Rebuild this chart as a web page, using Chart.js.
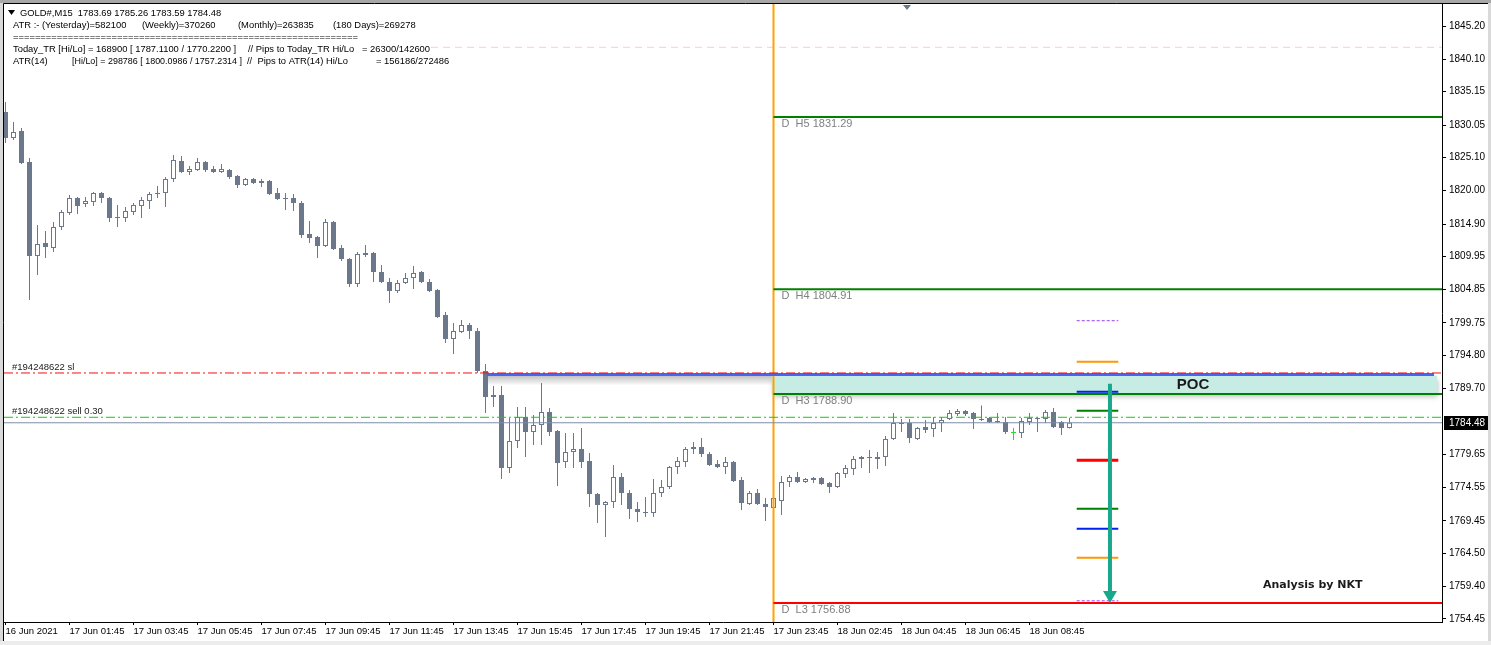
<!DOCTYPE html>
<html>
<head>
<meta charset="utf-8">
<title>GOLD#,M15</title>
<script src="https://cdn.jsdelivr.net/npm/chart.js@4.4.1/dist/chart.umd.min.js"></script>
<style>
  html, body { margin: 0; padding: 0; background: #fff; }
  canvas { display: block; }
</style>
</head>
<body>
<canvas id="goldChart" width="1491" height="645"></canvas>
<script>
"use strict";

// GOLD#, M15 candles
const opens = [
  1832.04, 1828.06, 1829.13, 1824.39, 1810.00, 1811.99, 1811.23, 1814.44, 1816.58, 1818.88,
  1817.96, 1818.27, 1819.64, 1818.88, 1815.97, 1815.82, 1816.74, 1817.65, 1818.42, 1819.49,
  1819.64, 1821.79, 1824.54, 1822.86, 1823.16, 1824.39, 1823.32, 1822.86, 1823.16, 1822.25,
  1820.87, 1821.79, 1821.48, 1821.48, 1819.64, 1818.88, 1818.88, 1818.11, 1813.37, 1812.91,
  1811.53, 1815.21, 1811.23, 1809.54, 1805.72, 1810.46, 1810.46, 1807.55, 1806.02, 1804.64,
  1805.87, 1806.63, 1807.55, 1806.02, 1804.80, 1800.97, 1797.30, 1798.37, 1799.44, 1798.52,
  1792.40, 1788.42, 1788.73, 1777.56, 1781.69, 1785.36, 1783.07, 1784.14, 1786.13, 1783.22,
  1778.47, 1780.01, 1780.47, 1778.63, 1773.58, 1771.89, 1772.35, 1776.18, 1773.73, 1771.28,
  1770.82, 1770.67, 1773.73, 1774.65, 1777.71, 1778.47, 1780.47, 1780.77, 1779.70, 1778.17,
  1777.71, 1778.47, 1775.72, 1772.05, 1773.73, 1772.05, 1771.44, 1772.51, 1775.41, 1776.18,
  1775.41, 1775.72, 1776.03, 1775.26, 1774.65, 1776.64, 1777.40, 1778.93, 1779.09, 1778.93,
  1779.24, 1781.99, 1784.29, 1784.44, 1781.99, 1783.83, 1783.53, 1784.44, 1785.06, 1785.82,
  1786.28, 1785.97, 1785.06, 1785.21, 1784.75, 1784.60, 1782.91, 1782.91, 1784.60, 1785.21,
  1785.06, 1786.13, 1784.60, 1783.69
];
const highs = [
  1833.57, 1830.51, 1829.59, 1825.00, 1814.75, 1813.83, 1815.21, 1817.04, 1819.34, 1819.03,
  1819.03, 1819.80, 1819.80, 1819.03, 1817.81, 1817.50, 1818.11, 1819.03, 1819.80, 1820.71,
  1822.09, 1825.46, 1825.31, 1823.78, 1825.00, 1824.54, 1823.78, 1824.08, 1823.32, 1822.40,
  1821.94, 1821.94, 1821.79, 1821.63, 1820.41, 1819.64, 1819.49, 1818.42, 1815.36, 1813.06,
  1815.66, 1815.36, 1811.69, 1809.70, 1810.61, 1811.69, 1810.61, 1808.62, 1806.63, 1806.33,
  1807.40, 1808.47, 1807.71, 1806.48, 1804.95, 1801.43, 1799.75, 1800.21, 1799.75, 1798.98,
  1793.47, 1790.10, 1790.10, 1785.21, 1786.89, 1786.89, 1785.67, 1790.57, 1786.74, 1783.37,
  1782.91, 1782.91, 1783.68, 1779.85, 1773.73, 1772.51, 1778.02, 1776.79, 1774.19, 1772.35,
  1773.12, 1775.87, 1775.72, 1777.86, 1779.24, 1780.77, 1781.54, 1782.15, 1780.01, 1778.78,
  1779.24, 1778.63, 1776.18, 1774.04, 1774.34, 1772.97, 1773.12, 1776.33, 1776.49, 1776.95,
  1776.03, 1776.18, 1776.18, 1775.41, 1776.95, 1778.02, 1779.39, 1779.39, 1780.31, 1780.01,
  1782.45, 1785.97, 1785.06, 1785.06, 1783.83, 1784.90, 1785.36, 1785.36, 1786.43, 1786.59,
  1786.43, 1786.13, 1787.11, 1785.36, 1785.97, 1785.36, 1783.68, 1785.21, 1785.97, 1785.36,
  1786.43, 1786.74, 1784.75, 1785.26
];
const lows = [
  1827.30, 1827.75, 1824.08, 1803.27, 1807.09, 1809.70, 1810.61, 1813.98, 1816.28, 1816.43,
  1817.50, 1817.65, 1818.11, 1815.21, 1814.44, 1815.21, 1816.28, 1815.82, 1817.20, 1818.88,
  1817.50, 1821.33, 1822.70, 1822.40, 1823.01, 1822.86, 1822.70, 1822.70, 1821.79, 1820.41,
  1820.71, 1821.02, 1820.56, 1819.34, 1818.57, 1817.04, 1816.89, 1812.76, 1811.99, 1809.70,
  1811.38, 1810.92, 1809.24, 1805.26, 1805.26, 1809.85, 1806.02, 1805.87, 1802.81, 1804.34,
  1805.72, 1804.95, 1805.87, 1804.49, 1800.51, 1796.69, 1795.00, 1798.22, 1797.30, 1792.10,
  1785.98, 1786.89, 1775.87, 1776.79, 1780.62, 1779.24, 1781.08, 1781.08, 1782.45, 1774.80,
  1777.56, 1777.56, 1777.56, 1771.59, 1769.14, 1767.00, 1771.44, 1771.89, 1769.75, 1769.29,
  1770.05, 1770.05, 1773.12, 1774.34, 1776.64, 1777.71, 1779.70, 1779.24, 1777.86, 1777.56,
  1776.64, 1775.41, 1771.13, 1771.89, 1771.89, 1769.45, 1770.22, 1770.36, 1774.65, 1775.26,
  1775.26, 1775.26, 1774.95, 1773.73, 1774.50, 1776.03, 1776.49, 1777.56, 1776.79, 1777.40,
  1777.86, 1781.84, 1783.07, 1781.38, 1781.84, 1782.91, 1782.30, 1783.07, 1784.90, 1785.52,
  1785.52, 1783.53, 1784.75, 1784.44, 1784.44, 1782.76, 1781.84, 1782.15, 1784.14, 1783.07,
  1784.44, 1783.68, 1782.61, 1783.59
];
const closes = [
  1828.06, 1828.98, 1824.24, 1810.00, 1811.84, 1811.38, 1814.44, 1816.74, 1818.88, 1817.65,
  1818.42, 1819.64, 1818.88, 1815.82, 1815.82, 1816.89, 1817.81, 1818.57, 1819.49, 1819.64,
  1821.79, 1824.69, 1822.86, 1823.32, 1824.39, 1823.16, 1822.86, 1823.32, 1822.09, 1820.87,
  1821.79, 1821.17, 1821.17, 1819.49, 1818.72, 1818.72, 1818.11, 1813.22, 1812.76, 1811.53,
  1815.21, 1811.07, 1809.54, 1805.72, 1810.31, 1810.16, 1807.55, 1806.02, 1804.64, 1805.87,
  1806.63, 1807.40, 1806.02, 1804.64, 1800.67, 1797.30, 1798.52, 1799.44, 1798.52, 1792.40,
  1788.42, 1788.73, 1777.56, 1781.69, 1785.36, 1783.07, 1784.14, 1786.13, 1783.07, 1778.32,
  1780.01, 1780.47, 1778.47, 1773.58, 1771.89, 1772.35, 1776.18, 1773.73, 1771.28, 1770.82,
  1770.67, 1773.73, 1774.65, 1777.71, 1778.63, 1780.47, 1780.77, 1779.70, 1778.02, 1777.71,
  1778.47, 1775.57, 1772.20, 1773.73, 1772.05, 1771.59, 1772.97, 1775.41, 1776.18, 1775.41,
  1775.87, 1776.03, 1775.11, 1774.65, 1776.79, 1777.56, 1778.93, 1779.24, 1779.24, 1779.24,
  1781.99, 1784.44, 1784.44, 1782.15, 1783.68, 1783.37, 1784.44, 1784.90, 1785.97, 1786.28,
  1785.82, 1785.06, 1784.90, 1784.60, 1784.60, 1783.07, 1783.07, 1784.75, 1785.21, 1785.06,
  1786.13, 1783.83, 1783.69, 1784.48
];

// time axis: bar index of each label
const timeTickIdx = [0, 8, 16, 24, 32, 40, 48, 56, 64, 72, 80, 88, 96, 104, 112, 120, 128];
const timeLabels = [
  '16 Jun 2021', '17 Jun 01:45', '17 Jun 03:45', '17 Jun 05:45', '17 Jun 07:45', '17 Jun 09:45',
  '17 Jun 11:45', '17 Jun 13:45', '17 Jun 15:45', '17 Jun 17:45', '17 Jun 19:45', '17 Jun 21:45',
  '17 Jun 23:45', '18 Jun 02:45', '18 Jun 04:45', '18 Jun 06:45', '18 Jun 08:45'
];
const priceTicks = [
  1845.20, 1840.10, 1835.15, 1830.05, 1825.10, 1820.00, 1814.90, 1809.95, 1804.85,
  1799.75, 1794.80, 1789.70, 1779.65, 1774.55, 1769.45, 1764.50, 1759.40, 1754.45
];

// daily pivot levels (drawn from the day separator)
const dayStart = 96;
const pivotNames = ['H5', 'H4', 'H3', 'L3'];
const pivotValues = [1831.29, 1804.91, 1788.90, 1756.88];

// short ATR / range levels on the right
const zoneValues = [1800.10, 1793.83, 1789.24, 1786.33, 1778.74, 1771.33, 1768.27, 1763.83, 1757.23];
const zoneRange = [133.9, 139.1];

// order + price lines
const bidPrice = 1784.48;
const slPrice = 1792.10;
const sellPrice = 1785.32;
const tradeLine = { from: 60.19, to: 178.56, price: 1791.85 };
const upperDashPrice = 1841.94;
const upperDashFrom = 53.19;

// POC zone and the arrow
const poc = { from: 95.8, to: 178.94, top: 1791.7, bottom: 1788.90, labelX: 148.44, labelY: 1790.3 };
const arrow = { x: 138.06, from: 1790.45, to: 1756.9 };
const noteText = { x: 157.19, y: 1759.65, text: 'Analysis by NKT' };
const shiftMarkerIdx = 112.69;

// header comment: [x, text, maxWidth]
const headerLines = [
  [[20, 'GOLD#,M15  1783.69 1785.26 1783.59 1784.48']],
  [[13, 'ATR :- (Yesterday)=582100'], [142, '(Weekly)=370260'], [238, '(Monthly)=263835'], [333, '(180 Days)=269278']],
  [[13, '===============================================================', 347]],
  [[13, 'Today_TR [Hi/Lo] = 168900 [ 1787.1100 / 1770.2200 ]', 226], [248, '// Pips to Today_TR Hi/Lo'], [362, '= 26300/142600']],
  [[13, 'ATR(14)'], [72, '[Hi/Lo] = 298786 [ 1800.0986 / 1757.2314 ]', 170], [247, '//  Pips to ATR(14) Hi/Lo'], [376, '= 156186/272486']]
];

// ---- styles ----
const candleGray = '#6b788c';
const zoneColors = ['#9b3cf5', '#ff9900', '#0022ee', '#008000', '#ff0000', '#008000', '#0022ee', '#ff9900', '#9b3cf5'];
const zoneWidths = [1, 2, 2, 2, 3, 2, 2, 2, 1];
const smallFont = "'Liberation Sans', Arial, sans-serif";

const X_MIN = -0.1875, X_MAX = 179.5625;
const Y_MIN = 1753.99, Y_MAX = 1848.57;

function hLine(x0, x1, price, color, width, dash) {
  return {
    type: 'line',
    data: [{ x: x0, y: price }, { x: x1, y: price }],
    borderColor: color,
    borderWidth: width,
    borderDash: dash || [],
    pointRadius: 0,
    order: 0
  };
}

let bodyColors = opens.map((o, i) => closes[i] > o ? '#ffffff' : candleGray);
bodyColors[126] = '#22dd22';
let edgeColors = opens.map((o, i) => i === 126 ? '#22dd22' : candleGray);

let datasets = [
  {
    type: 'bar',
    data: opens.map((o, i) => ({ x: i, y: [o, closes[i]] })),
    backgroundColor: bodyColors,
    borderColor: edgeColors,
    borderWidth: 1,
    borderSkipped: false,
    barThickness: 5,
    grouped: false,
    inflateAmount: 0,
    order: 1
  },
  {
    type: 'bar',
    data: opens.map((o, i) => ({ x: i, y: [lows[i], highs[i]] })),
    backgroundColor: edgeColors,
    borderWidth: 0,
    barThickness: 1,
    grouped: false,
    inflateAmount: 0,
    order: 2
  },
  hLine(X_MIN, X_MAX, bidPrice, '#7d8ca6', 1),
  hLine(X_MIN, X_MAX, sellPrice, '#11cc11', 1, [9, 3, 2, 3]),
  hLine(X_MIN, X_MAX, slPrice, '#ee1111', 1, [9, 3, 2, 3]),
  hLine(upperDashFrom, X_MAX, upperDashPrice, 'rgba(255,150,150,0.5)', 1, [7, 5]),
  hLine(tradeLine.from, tradeLine.to, tradeLine.price, '#4a64f0', 3)
];

pivotValues.forEach((v, i) => {
  datasets.push(hLine(dayStart, X_MAX, v, pivotNames[i].startsWith('L') ? '#ff0000' : '#008000', 2));
});
zoneValues.forEach((v, i) => {
  datasets.push(hLine(zoneRange[0], zoneRange[1], v, zoneColors[i], zoneWidths[i], zoneWidths[i] === 1 ? [3, 2] : []));
});
// day separator
datasets.push({
  type: 'line',
  data: [{ x: dayStart, y: Y_MAX }, { x: dayStart, y: Y_MIN }],
  borderColor: '#ffa200',
  borderWidth: 2,
  pointRadius: 0,
  order: 0
});

const mtOverlays = {
  id: 'mtOverlays',
  beforeDraw(chart) {
    const { ctx, width, height } = chart;
    ctx.save();
    ctx.fillStyle = '#ffffff';
    ctx.fillRect(0, 0, width, height);
    ctx.restore();
  },
  beforeDatasetsDraw(chart) {
    const { ctx, scales: { x, y } } = chart;
    ctx.save();
    // shade under the stop line
    const s0 = x.getPixelForValue(tradeLine.from), s1 = x.getPixelForValue(poc.from);
    const sy = y.getPixelForValue(poc.top);
    const g = ctx.createLinearGradient(0, sy, 0, sy + 10);
    g.addColorStop(0, 'rgba(140,140,140,0.55)');
    g.addColorStop(1, 'rgba(140,140,140,0)');
    ctx.fillStyle = g;
    ctx.fillRect(s0, sy, s1 - s0, 10);
    // POC box
    const bx0 = x.getPixelForValue(poc.from), bx1 = x.getPixelForValue(poc.to);
    const by0 = y.getPixelForValue(poc.top), by1 = y.getPixelForValue(poc.bottom);
    ctx.shadowColor = 'rgba(0,0,0,0.28)';
    ctx.shadowBlur = 5;
    ctx.shadowOffsetX = 1;
    ctx.shadowOffsetY = 3;
    ctx.fillStyle = '#c7ece3';
    ctx.fillRect(bx0, by0, bx1 - bx0, by1 - by0);
    ctx.restore();
  },
  afterDatasetsDraw(chart) {
    const { ctx, chartArea, scales: { x, y } } = chart;
    ctx.save();

    // arrow
    const ax = x.getPixelForValue(arrow.x);
    const ay0 = y.getPixelForValue(arrow.from), ay1 = y.getPixelForValue(arrow.to);
    ctx.strokeStyle = '#19a88b';
    ctx.fillStyle = '#19a88b';
    ctx.lineWidth = 4;
    ctx.beginPath();
    ctx.moveTo(ax, ay0);
    ctx.lineTo(ax, ay1 - 9);
    ctx.stroke();
    ctx.beginPath();
    ctx.moveTo(ax - 7, ay1 - 12);
    ctx.lineTo(ax + 7, ay1 - 12);
    ctx.lineTo(ax, ay1);
    ctx.closePath();
    ctx.fill();

    // pivot labels
    ctx.font = '11px ' + smallFont;
    ctx.fillStyle = '#808080';
    ctx.textBaseline = 'middle';
    ctx.textAlign = 'left';
    const lx = x.getPixelForValue(dayStart) + 8;
    pivotValues.forEach((v, i) => {
      ctx.fillText('D  ' + pivotNames[i] + ' ' + v.toFixed(2), lx, y.getPixelForValue(v) + 7);
    });

    // order labels
    ctx.font = '9.5px ' + smallFont;
    ctx.fillStyle = '#222';
    ctx.fillText('#194248622 sl', chartArea.left + 8, y.getPixelForValue(slPrice) - 6);
    ctx.fillText('#194248622 sell 0.30', chartArea.left + 8, y.getPixelForValue(sellPrice) - 6);

    // POC + note
    ctx.font = 'bold 15px ' + smallFont;
    ctx.fillStyle = '#1a1a1a';
    ctx.textAlign = 'center';
    ctx.fillText('POC', x.getPixelForValue(poc.labelX), y.getPixelForValue(poc.labelY));
    ctx.font = "bold 11px 'DejaVu Sans', sans-serif";
    ctx.textAlign = 'left';
    ctx.fillText(noteText.text, x.getPixelForValue(noteText.x), y.getPixelForValue(noteText.y));

    // chart shift marker
    const mx = x.getPixelForValue(shiftMarkerIdx);
    ctx.fillStyle = '#6b788c';
    ctx.beginPath();
    ctx.moveTo(mx - 4, chartArea.top + 1);
    ctx.lineTo(mx + 4, chartArea.top + 1);
    ctx.lineTo(mx, chartArea.top + 6);
    ctx.closePath();
    ctx.fill();
    ctx.restore();
  },
  afterDraw(chart) {
    const { ctx, width, height, chartArea, scales: { y } } = chart;
    ctx.save();
    // header comment block
    ctx.fillStyle = '#000';
    ctx.font = '9.4px ' + smallFont;
    ctx.textBaseline = 'middle';
    ctx.textAlign = 'left';
    headerLines.forEach((parts, row) => {
      parts.forEach(([px, txt, maxW]) => {
        if (maxW) ctx.fillText(txt, px, 13 + row * 12, maxW);
        else ctx.fillText(txt, px, 13 + row * 12);
      });
    });
    ctx.beginPath();
    ctx.moveTo(8, 10);
    ctx.lineTo(15, 10);
    ctx.lineTo(11.5, 15);
    ctx.closePath();
    ctx.fill();

    // bid label box
    const by = Math.round(y.getPixelForValue(bidPrice));
    ctx.font = '10px ' + smallFont;
    ctx.fillStyle = '#000';
    ctx.fillRect(chartArea.right + 2, by - 7, 45, 14);
    ctx.fillStyle = '#fff';
    ctx.fillText(bidPrice.toFixed(2), chartArea.right + 7, by);

    // window frame
    ctx.fillStyle = '#a7a7a7';
    ctx.fillRect(0, 0, width, 3);
    ctx.fillStyle = '#d9d9d9';
    ctx.fillRect(0, 3, 3, height - 3);
    ctx.fillRect(width - 3, 3, 3, height - 3);
    ctx.fillStyle = '#ececec';
    ctx.fillRect(0, height - 4, width, 4);
    ctx.strokeStyle = '#000';
    ctx.lineWidth = 1;
    ctx.beginPath();
    ctx.moveTo(3.5, height - 4);
    ctx.lineTo(3.5, 3.5);
    ctx.lineTo(width - 3, 3.5);
    ctx.stroke();
    ctx.restore();
  }
};

new Chart(document.getElementById('goldChart'), {
  type: 'bar',
  data: { datasets: datasets },
  options: {
    responsive: false,
    animation: false,
    layout: { padding: { left: 4, top: 4, right: 0, bottom: 0 } },
    plugins: {
      legend: { display: false },
      tooltip: { enabled: false }
    },
    scales: {
      x: {
        type: 'linear',
        min: X_MIN,
        max: X_MAX,
        offset: false,
        afterBuildTicks: s => { s.ticks = timeTickIdx.map(v => ({ value: v })); },
        afterFit: s => { s.height = 23; s.paddingLeft = 0; s.paddingRight = 0; },
        ticks: {
          callback: (v, i) => timeLabels[i],
          align: 'start',
          autoSkip: false,
          maxRotation: 0,
          minRotation: 0,
          padding: 1,
          color: '#000',
          font: { family: smallFont, size: 9.5 }
        },
        grid: { drawOnChartArea: false, offset: false, tickLength: 3, color: '#000' },
        border: { display: true, color: '#000' }
      },
      y: {
        position: 'right',
        min: Y_MIN,
        max: Y_MAX,
        beginAtZero: false,
        afterBuildTicks: s => { s.ticks = priceTicks.map(v => ({ value: v })); },
        afterFit: s => { s.width = 49; s.paddingTop = 0; s.paddingBottom = 0; },
        ticks: {
          callback: v => Number(v).toFixed(2),
          autoSkip: false,
          padding: 3,
          color: '#000',
          font: { family: smallFont, size: 10 }
        },
        grid: { drawOnChartArea: false, tickLength: 4, color: '#000' },
        border: { display: true, color: '#000' }
      }
    }
  },
  plugins: [mtOverlays]
});
</script>
</body>
</html>
